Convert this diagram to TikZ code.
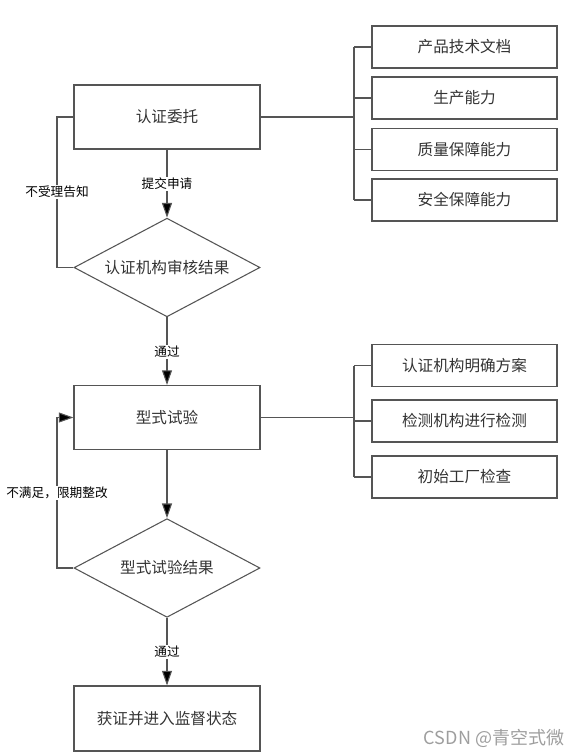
\documentclass[tikz,border=0pt]{standalone}
\usepackage{fontspec}
\setmainfont{Noto Sans CJK SC}
\newfontfamily\cjk{Noto Sans CJK SC}
\usetikzlibrary{shapes.geometric,arrows.meta}
\definecolor{linec}{HTML}{555555}
\definecolor{txtc}{HTML}{333333}
\tikzset{
  px/.style={x=0.75pt,y=-0.75pt},
  mainbox/.style={draw=linec,line width=0.8pt,rectangle,inner sep=0pt,
    minimum width=139.5pt,minimum height=48pt,font=\cjk\fontsize{11.7}{13}\selectfont,text=txtc},
  subbox/.style={draw=linec,line width=0.8pt,rectangle,inner sep=0pt,
    minimum width=138.75pt,minimum height=31.5pt,font=\cjk\fontsize{11.7}{13}\selectfont,text=txtc},
  decbox/.style={draw=linec,line width=0.8pt,diamond,inner sep=0pt,aspect=1.88,
    minimum width=139.5pt,minimum height=74pt,font=\cjk\fontsize{11.7}{13}\selectfont,text=txtc},
  conn/.style={draw=linec,line width=0.8pt},
  flow/.style={conn,-{Triangle[length=11pt,width=7.5pt,fill=black]}},
  lbl/.style={fill=white,inner sep=1pt,font=\cjk\fontsize{9.5}{11}\selectfont,text=black},
  wm/.style={font=\cjk\fontsize{13.5}{15}\selectfont,text=black!38}
}
\begin{document}
\begin{tikzpicture}[px]
\useasboundingbox (0,0) rectangle (582,755);
% main column
\node[mainbox] (A) at (167,117) {认证委托};
\node[decbox]  (D1) at (167,267.5) {认证机构审核结果};
\node[mainbox] (B) at (167,417.5) {型式试验};
\node[decbox]  (D2) at (167,568) {型式试验结果};
\node[mainbox,minimum height=48.75pt] (C) at (167,718.5) {获证并进入监督状态};
% right boxes group 1
\node[subbox] (R1) at (464.5,47) {产品技术文档};
\node[subbox] (R2) at (464.5,98) {生产能力};
\node[subbox] (R3) at (464.5,149.5) {质量保障能力};
\node[subbox] (R4) at (464.5,200) {安全保障能力};
% right boxes group 2
\node[subbox] (S1) at (464.5,365.5) {认证机构明确方案};
\node[subbox] (S2) at (464.5,421) {检测机构进行检测};
\node[subbox] (S3) at (464.5,477) {初始工厂检查};
% brackets
\coordinate (j1) at (354,117);
\coordinate (j2) at (354,417.5);
\draw[conn] (A.east) -- (j1);
\draw[conn] (j1 |- R1.west) -- (j1 |- R4.west);
\foreach \n in {R1,R2,R3,R4} \draw[conn] (j1 |- \n.west) -- (\n.west);
\draw[conn] (B.east) -- (j2);
\draw[conn] (j2 |- S1.west) -- (j2 |- S3.west);
\foreach \n in {S1,S2,S3} \draw[conn] (j2 |- \n.west) -- (\n.west);
% flow arrows
\draw[flow] (A.south) -- (D1.north);
\draw[flow] (D1.south) -- (B.north);
\draw[flow] (B.south) -- (D2.north);
\draw[flow] (D2.south) -- (C.north);
% loops
\coordinate (L1) at (57,267.5);
\coordinate (L2) at (57,568);
\draw[conn] (D1.west) -- (L1) |- (A.west);
\draw[flow] (D2.west) -- (L2) |- (B.west);
% labels
\node[lbl] (t1) at (167,184) {提交申请};
\node[lbl] (t2) at (167,352) {通过};
\node[lbl] (t3) at (167,652) {通过};
\node[lbl] (t4) at (57,192) {不受理告知};
\node[lbl] (t5) at (57,493) {不满足，限期整改};
% watermark
\node[wm] (w) at (494,738) {CSDN @青空式微};
\end{tikzpicture}
\end{document}
